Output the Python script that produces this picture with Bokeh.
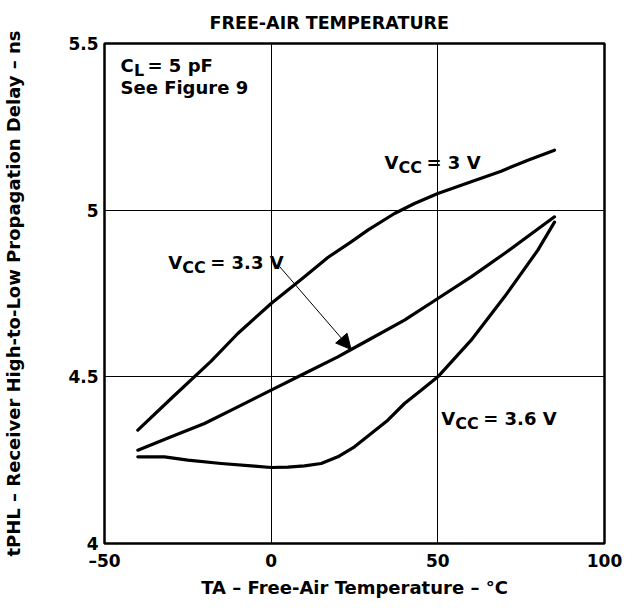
from bokeh.plotting import figure
from bokeh.models import Range1d, Label, Arrow, NormalHead, FixedTicker
from bokeh.embed import file_html
from bokeh.resources import INLINE

# ---- data ----
temps_3v = [-40, -30, -18, -10, 0, 10, 17, 24, 29, 37, 43, 50, 60, 69, 77, 85]
delay_3v = [4.34, 4.435, 4.547, 4.63, 4.72, 4.80, 4.858, 4.905, 4.94, 4.99, 5.02, 5.05, 5.085, 5.117, 5.15, 5.18]

temps_33v = [-40, -30, -20, -10, 0, 10, 20, 24, 30, 40, 50, 60, 70, 85]
delay_33v = [4.28, 4.32, 4.36, 4.41, 4.46, 4.51, 4.56, 4.582, 4.615, 4.67, 4.735, 4.80, 4.87, 4.98]

temps_36v = [-40, -32, -25, -15, -5, 0, 5, 10, 15, 20, 25, 30, 35, 40, 45, 50, 60, 70, 80, 85]
delay_36v = [4.26, 4.26, 4.25, 4.24, 4.232, 4.228, 4.229, 4.233, 4.24, 4.26, 4.29, 4.33, 4.37, 4.42, 4.46, 4.50, 4.61, 4.74, 4.88, 4.964]

x_ticks = [-50, 0, 50, 100]
x_tick_labels = ["\u201350", "0", "50", "100"]
y_ticks = [4, 4.5, 5, 5.5]
y_tick_labels = ["4", "4.5", "5", "5.5"]

FONT = "DejaVu Sans"

p = figure(width=631, height=600, output_backend="svg", toolbar_location=None,
           x_range=Range1d(-50, 100), y_range=Range1d(4, 5.5),
           min_border_left=98, min_border_right=27, min_border_top=42, min_border_bottom=52,
           title="FREE-AIR TEMPERATURE")
p.background_fill_color = "white"
p.border_fill_color = "white"
p.outline_line_color = "black"
p.outline_line_width = 2.5

p.title.text_font = FONT
p.title.text_font_style = "bold"
p.title.text_font_size = "17.5px"
p.title.text_color = "black"
p.title.align = "left"
p.title.offset = 105
p.title.standoff = 21

for ax in (p.xaxis[0], p.yaxis[0]):
    ax.axis_line_color = None
    ax.major_tick_line_color = None
    ax.minor_tick_line_color = None
    ax.major_tick_out = 0
    ax.major_tick_in = 0
    ax.minor_tick_out = 0
    ax.minor_tick_in = 0
    ax.major_label_text_font = FONT
    ax.major_label_text_font_style = "bold"
    ax.major_label_text_font_size = "17px"
    ax.major_label_text_color = "black"
    ax.axis_label_text_font = FONT
    ax.axis_label_text_font_style = "bold"
    ax.axis_label_text_font_size = "18px"
    ax.axis_label_text_color = "black"

p.xaxis.ticker = FixedTicker(ticks=x_ticks)
p.xaxis.major_label_overrides = {t: l for t, l in zip(x_ticks, x_tick_labels)}
p.xaxis.major_label_standoff = 7
p.xaxis.axis_label = "TA \u2013 Free-Air Temperature \u2013 \u00b0C"
p.xaxis.axis_label_standoff = 3

p.yaxis.ticker = FixedTicker(ticks=y_ticks)
p.yaxis.major_label_overrides = {t: l for t, l in zip(y_ticks, y_tick_labels)}
p.yaxis.major_label_standoff = 6
p.yaxis.axis_label = "tPHL \u2013 Receiver High-to-Low Propagation Delay \u2013 ns"
p.yaxis.axis_label_standoff = 41

p.xgrid.ticker = FixedTicker(ticks=[0, 50])
p.ygrid.ticker = FixedTicker(ticks=[4.5, 5])
for g in (p.xgrid[0], p.ygrid[0]):
    g.grid_line_color = "black"
    g.grid_line_width = 1
    g.grid_line_alpha = 1

for xs, ys in ((temps_3v, delay_3v), (temps_33v, delay_33v), (temps_36v, delay_36v)):
    p.line(xs, ys, line_color="black", line_width=3.2, line_cap="round", line_join="round")


def lab(x, y, text, size="18px", units="data", xo=0, yo=0):
    p.add_layout(Label(x=x, y=y, x_units=units, y_units=units, text=text,
                       x_offset=xo, y_offset=yo, text_font=FONT, text_font_style="bold",
                       text_font_size=size, text_color="black", text_align="left",
                       text_baseline="alphabetic"))


def vcc_label(x, y, rest):
    lab(x, y, "V")
    lab(x, y, "CC", size="16px", xo=14, yo=-5)
    lab(x, y, rest, xo=42)


vcc_label(34.0, 5.143, "= 3 V")
vcc_label(-30.9, 4.843, "= 3.3 V")
vcc_label(51.0, 4.376, "= 3.6 V")

# arrow from the 3.3 V label to its curve
p.add_layout(Arrow(end=NormalHead(size=15, fill_color="black", line_color="black"),
                   x_start=2.6, y_start=4.83, x_end=temps_33v[7], y_end=delay_33v[7],
                   line_color="black", line_width=1))

# C_L annotation (screen units relative to plot frame)
lab(16, 478, "C", units="screen")
lab(16, 478, "L", size="16px", units="screen", xo=13.5, yo=-5)
lab(16, 478, "= 5 pF", units="screen", xo=27)
lab(16, 456, "See Figure 9", units="screen")

open("out.html", "w").write(file_html(p, INLINE))
